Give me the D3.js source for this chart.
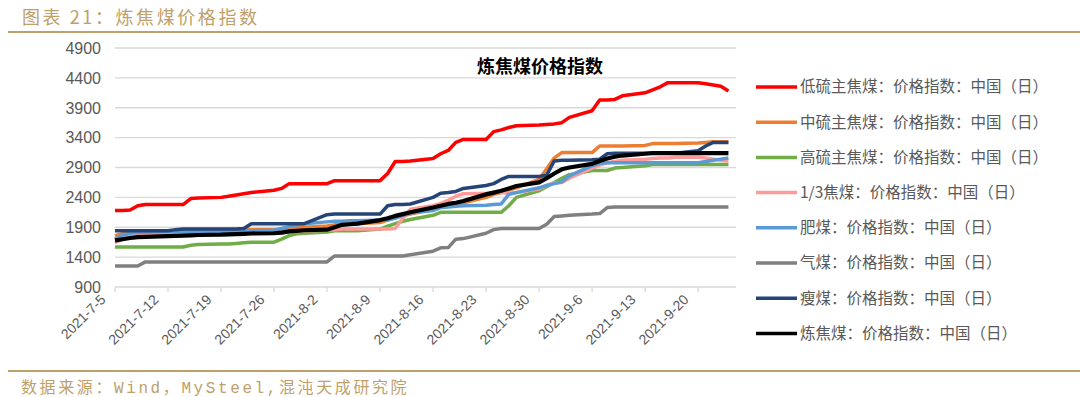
<!DOCTYPE html>
<html>
<head>
<meta charset="utf-8">
<script src="https://cdn.jsdelivr.net/npm/d3@7"></script>
<style>
  body { margin: 0; background: #fff; }
  svg { display: block; }
</style>
</head>
<body>
<div id="chart"></div>
<script>

// dates (weekdays) of the index
var dates = [
  "2021-7-5","2021-7-6","2021-7-7","2021-7-8","2021-7-9",
  "2021-7-12","2021-7-13","2021-7-14","2021-7-15","2021-7-16",
  "2021-7-19","2021-7-20","2021-7-21","2021-7-22","2021-7-23",
  "2021-7-26","2021-7-27","2021-7-28","2021-7-29","2021-7-30",
  "2021-8-2","2021-8-3","2021-8-4","2021-8-5","2021-8-6",
  "2021-8-9","2021-8-10","2021-8-11","2021-8-12","2021-8-13",
  "2021-8-16","2021-8-17","2021-8-18","2021-8-19","2021-8-20",
  "2021-8-23","2021-8-24","2021-8-25","2021-8-26","2021-8-27",
  "2021-8-30","2021-8-31","2021-9-1","2021-9-2","2021-9-3",
  "2021-9-6","2021-9-7","2021-9-8","2021-9-9","2021-9-10",
  "2021-9-13","2021-9-14","2021-9-15","2021-9-16","2021-9-17",
  "2021-9-20","2021-9-21","2021-9-22","2021-9-23","2021-9-24"
];

var tickLabels = ["2021-7-5","2021-7-12","2021-7-19","2021-7-26","2021-8-2","2021-8-9",
                  "2021-8-16","2021-8-23","2021-8-30","2021-9-6","2021-9-13","2021-9-20"];
var yTicks = [900,1400,1900,2400,2900,3400,3900,4400,4900];

// 低硫主焦煤
var lowSulfur = [
  2180,2180,2190,2260,2280, 2280,2280,2280,2380,2390, 2400,2420,2440,2460,2480,
  2520,2550,2630,2630,2630, 2630,2680,2680,2680,2680, 2680,2800,3000,3000,3010,
  3050,3130,3185,3320,3370, 3370,3500,3530,3570,3600, 3610,3620,3630,3650,3740,
  3850,4030,4030,4040,4100, 4150,4200,4250,4320,4320, 4320,4300,4280,4260,4180
];
// 中硫主焦煤
var midSulfur = [
  1760,1790,1810,1820,1820, 1820,1830,1830,1840,1840, 1840,1850,1850,1860,1860,
  1860,1870,1880,1890,1900, 1920,1940,1950,1960,1960, 1980,2020,2060,2090,2120,
  2200,2250,2270,2290,2310, 2400,2450,2480,2520,2560, 2700,2880,3060,3150,3150,
  3150,3260,3260,3260,3260, 3270,3300,3300,3300,3300, 3310,3320,3330,3330,3330
];
// 高硫主焦煤
var highSulfur = [
  1570,1570,1570,1570,1570, 1570,1570,1570,1600,1610, 1620,1620,1630,1640,1650,
  1650,1700,1760,1790,1800, 1820,1840,1840,1840,1840, 1870,1920,1960,2000,2030,
  2100,2150,2150,2150,2150, 2150,2150,2150,2260,2400, 2510,2580,2650,2720,2780,
  2850,2850,2850,2890,2900, 2930,2950,2950,2950,2950, 2950,2950,2950,2950,2950
];
// 1/3焦煤
var thirdCoking = [
  1640,1700,1740,1760,1770, 1780,1780,1780,1790,1790, 1790,1800,1800,1800,1800,
  1800,1810,1820,1830,1840, 1850,1860,1870,1870,1870, 1870,1870,1880,2050,2200,
  2260,2300,2350,2420,2460, 2470,2480,2480,2470,2480, 2540,2600,2640,2650,2720,
  2890,2940,2980,3000,3020, 3040,3050,3060,3060,3070, 3070,3060,3040,3020,3010
];
// 肥煤
var fatCoal = [
  1700,1760,1800,1810,1820, 1830,1830,1830,1830,1830, 1830,1830,1840,1840,1840,
  1850,1880,1910,1940,1960, 1990,2000,2000,2010,2010, 2020,2020,2050,2100,2140,
  2180,2230,2240,2250,2260, 2270,2280,2290,2450,2480, 2560,2600,2630,2660,2760,
  2930,2970,2980,2980,2980, 2980,2980,2980,2980,2980, 2980,3000,3020,3040,3060
];
// 气煤
var gasCoal = [
  1250,1250,1250,1250,1320, 1320,1320,1320,1320,1320, 1320,1320,1320,1320,1320,
  1320,1320,1320,1320,1320, 1320,1420,1420,1420,1420, 1420,1420,1420,1420,1440,
  1500,1555,1560,1700,1710, 1800,1860,1880,1880,1880, 1880,1950,2080,2090,2100,
  2120,2130,2230,2240,2240, 2240,2240,2240,2240,2240, 2240,2240,2240,2240,2240
];
// 瘦煤
var leanCoal = [
  1840,1840,1840,1840,1840, 1840,1860,1870,1870,1870, 1870,1870,1870,1880,1960,
  1960,1960,1960,1960,1960, 2110,2120,2120,2120,2120, 2120,2260,2280,2280,2290,
  2400,2470,2480,2500,2550, 2600,2630,2700,2750,2750, 2750,2770,3010,3020,3020,
  3030,3040,3130,3140,3140, 3140,3140,3140,3140,3140, 3180,3260,3320,3320,3320
];
// 炼焦煤
var cokingCoal = [
  1680,1700,1720,1735,1740, 1750,1755,1760,1765,1770, 1775,1780,1785,1790,1795,
  1800,1810,1830,1840,1850, 1860,1900,1940,1950,1960, 2020,2050,2090,2120,2150,
  2230,2260,2290,2310,2340, 2450,2480,2510,2550,2590, 2650,2720,2800,2870,2900,
  2960,3010,3050,3080,3100, 3130,3140,3140,3140,3140, 3140,3140,3140,3140,3140
];

var seriesNames = [
  "低硫主焦煤：价格指数：中国（日）",
  "中硫主焦煤：价格指数：中国（日）",
  "高硫主焦煤：价格指数：中国（日）",
  "1/3焦煤：价格指数：中国（日）",
  "肥煤：价格指数：中国（日）",
  "气煤：价格指数：中国（日）",
  "瘦煤：价格指数：中国（日）",
  "炼焦煤：价格指数：中国（日）"
];
var seriesValues = [lowSulfur, midSulfur, highSulfur, thirdCoking, fatCoal, gasCoal, leanCoal, cokingCoal];
var seriesColors = ["#ff0000","#ed7d31","#70ad47","#ff9a9a","#5b9bd5","#808080","#264478","#000000"];

var W = 1080, H = 397;
var gold = "#c0a06a";
var parse = d3.timeParse("%Y-%m-%d");

var svg = d3.select("#chart").append("svg")
  .attr("width", W)
  .attr("height", H);

// header + footer
svg.append("text")
  .attr("x", 22).attr("y", 24)
  .attr("textLength", 235).attr("lengthAdjust", "spacing")
  .style("font-family", "'Noto Sans CJK SC', sans-serif")
  .style("font-size", "18px")
  .style("fill", gold)
  .text("图表 21：炼焦煤价格指数");

svg.append("line")
  .attr("x1", 8).attr("x2", W).attr("y1", 32).attr("y2", 32)
  .style("stroke", gold).style("stroke-width", 2);

svg.append("line")
  .attr("x1", 8).attr("x2", W).attr("y1", 371).attr("y2", 371)
  .style("stroke", gold).style("stroke-width", 2);

svg.append("text")
  .attr("x", 21).attr("y", 393)
  .style("font-family", "'Liberation Mono', 'Noto Sans CJK SC', monospace")
  .style("font-size", "16px")
  .style("letter-spacing", "2.6px")
  .style("fill", gold)
  .text("数据来源：Wind，MySteel,混沌天成研究院");

// scales
var x = d3.scaleTime()
  .domain([parse("2021-7-5"), parse("2021-9-25")])
  .range([115, 736]);

var y = d3.scaleLinear()
  .domain([900, 4900])
  .range([287, 48]);

// gridlines
svg.append("g")
  .selectAll("line")
  .data(yTicks)
  .enter()
  .append("line")
  .attr("x1", 115).attr("x2", 736)
  .attr("y1", function(d){ return y(d); })
  .attr("y2", function(d){ return y(d); })
  .style("stroke", "#d9d9d9")
  .style("stroke-width", 1.3);

// y labels
svg.append("g")
  .selectAll("text")
  .data(yTicks)
  .enter()
  .append("text")
  .attr("x", 101)
  .attr("y", function(d){ return y(d); })
  .attr("dy", "0.36em")
  .attr("text-anchor", "end")
  .style("font-family", "'Liberation Sans', Arial, sans-serif")
  .style("font-size", "16px")
  .style("fill", "#595959")
  .text(function(d){ return d; });

// x ticks + rotated labels
var xTickG = svg.append("g");
xTickG.selectAll("line")
  .data(tickLabels)
  .enter()
  .append("line")
  .attr("x1", function(d){ return x(parse(d)); })
  .attr("x2", function(d){ return x(parse(d)); })
  .attr("y1", 287).attr("y2", 292)
  .style("stroke", "#d9d9d9")
  .style("stroke-width", 1.3);

xTickG.selectAll("text")
  .data(tickLabels)
  .enter()
  .append("text")
  .attr("transform", function(d){ return "translate(" + (x(parse(d)) - 12) + ",297) rotate(-45)"; })
  .attr("text-anchor", "end")
  .attr("dy", "0.35em")
  .style("font-family", "'Liberation Sans', Arial, sans-serif")
  .style("font-size", "14px")
  .style("fill", "#595959")
  .text(function(d){ return d; });

// chart title
svg.append("text")
  .attr("x", 540).attr("y", 73)
  .attr("text-anchor", "middle")
  .style("font-family", "'Noto Sans CJK SC', sans-serif")
  .style("font-weight", "bold")
  .style("font-size", "18px")
  .style("fill", "#000")
  .text("炼焦煤价格指数");

// lines
var line = d3.line()
  .x(function(d, i){ return x(parse(dates[i])); })
  .y(function(d){ return y(d); });

svg.append("g")
  .selectAll("path")
  .data(seriesValues)
  .enter()
  .append("path")
  .attr("d", line)
  .style("fill", "none")
  .style("stroke", function(d, i){ return seriesColors[i]; })
  .style("stroke-width", function(d, i){ return i == 7 ? 4.2 : 3.5; })
  .style("stroke-linejoin", "round");

// legend
var legend = svg.append("g")
  .selectAll("g")
  .data(seriesNames)
  .enter()
  .append("g")
  .attr("transform", function(d, i){ return "translate(756," + (87 + i * 35.2) + ")"; });

legend.append("line")
  .attr("x1", 0).attr("x2", 41)
  .style("stroke", function(d, i){ return seriesColors[i]; })
  .style("stroke-width", 3.5);

legend.append("text")
  .attr("x", 44)
  .attr("dy", "0.35em")
  .style("font-family", "'Noto Sans CJK SC', sans-serif")
  .style("font-size", "15.5px")
  .style("fill", "#595959")
  .text(function(d){ return d; });

</script>
</body>
</html>
